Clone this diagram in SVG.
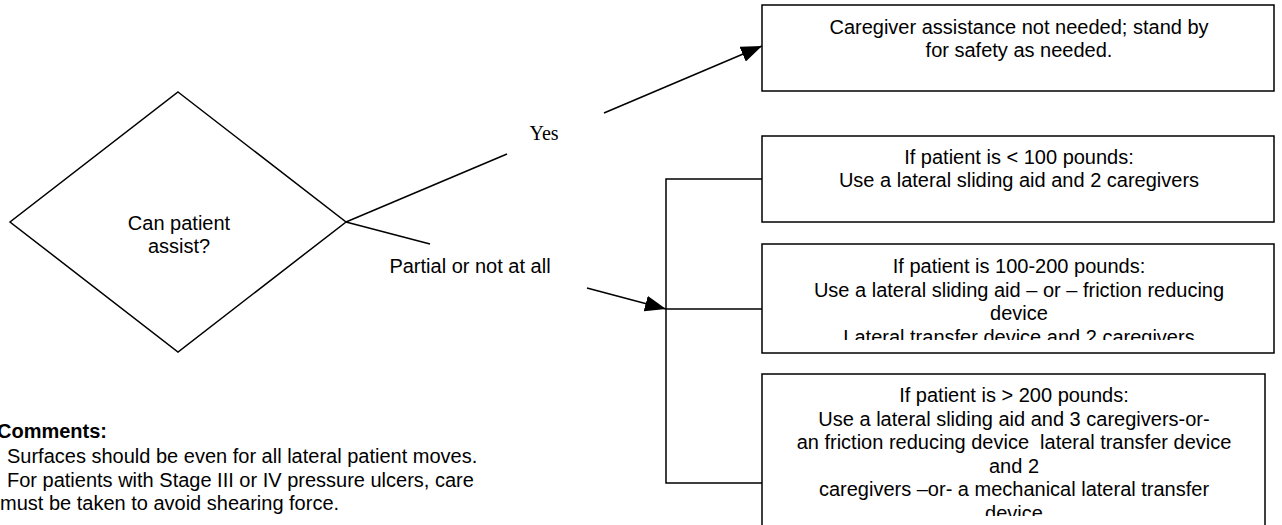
<svg xmlns="http://www.w3.org/2000/svg" width="1282" height="525" viewBox="0 0 1282 525">
<style>
  .shape{fill:#fff;stroke:#000;stroke-width:1.5}
  .line{fill:none;stroke:#000;stroke-width:1.5}
  .t{font-family:"Liberation Sans",Arial,sans-serif;font-size:20px;fill:#000;white-space:pre}
  .c{text-anchor:middle}
  .serif{font-family:"Liberation Serif","Times New Roman",serif;font-size:20px;fill:#000}
  .b{font-weight:bold}
</style>
<defs>
  <marker id="arrow" viewBox="0 0 21 16" refX="21" refY="8" markerWidth="21" markerHeight="16" markerUnits="userSpaceOnUse" orient="auto">
    <path d="M0,0 L21,8 L0,16 Z" fill="#000"/>
  </marker>
  <clipPath id="clip3"><rect x="762" y="244" width="512" height="96"/></clipPath>
  <clipPath id="clip4"><rect x="762" y="374" width="503" height="142"/></clipPath>
</defs>
<rect width="1282" height="525" fill="#fff"/>

<g id="connectors">
  <line class="line" x1="346" y1="222" x2="507" y2="154"/>
  <line class="line" x1="604" y1="113" x2="762" y2="46" marker-end="url(#arrow)"/>
  <line class="line" x1="346" y1="222" x2="430" y2="244"/>
  <line class="line" x1="587" y1="288" x2="666" y2="309" marker-end="url(#arrow)"/>
  <polyline class="line" points="762,179 666,179 666,483 762,483"/>
  <line class="line" x1="666" y1="309" x2="762" y2="309"/>
  <text class="serif c" x="544" y="140">Yes</text>
  <text class="t c" x="470" y="273">Partial or not at all</text>
</g>

<g id="decision">
  <polygon class="shape" points="178,92 346,222 178,352 10,222"/>
  <text class="t c" x="179" y="230">Can patient</text>
  <text class="t c" x="179" y="253">assist?</text>
</g>

<g id="box-yes">
  <rect class="shape" x="762" y="5" width="512" height="86"/>
  <text class="t c" x="1019" y="34">Caregiver assistance not needed; stand by</text>
  <text class="t c" x="1019" y="57">for safety as needed.</text>
</g>

<g id="box-under100">
  <rect class="shape" x="762" y="136" width="512" height="86"/>
  <text class="t c" x="1019" y="164">If patient is &lt; 100 pounds:</text>
  <text class="t c" x="1019" y="187">Use a lateral sliding aid and 2 caregivers</text>
</g>

<g id="box-100-200">
  <rect class="shape" x="762" y="244" width="512" height="109"/>
  <g clip-path="url(#clip3)">
    <text class="t c" x="1019" y="273">If patient is 100-200 pounds:</text>
    <text class="t c" x="1019" y="296.5">Use a lateral sliding aid – or – friction reducing</text>
    <text class="t c" x="1019" y="320">device</text>
    <text class="t c" x="1019" y="343.5">Lateral transfer device and 2 caregivers</text>
  </g>
</g>

<g id="box-over200">
  <rect class="shape" x="762" y="374" width="503" height="160"/>
  <g clip-path="url(#clip4)">
    <text class="t c" x="1014" y="402">If patient is &gt; 200 pounds:</text>
    <text class="t c" x="1014" y="425.5">Use a lateral sliding aid and 3 caregivers-or-</text>
    <text class="t c" x="1014" y="449">an friction reducing device  lateral transfer device</text>
    <text class="t c" x="1014" y="472.5">and 2</text>
    <text class="t c" x="1014" y="496">caregivers –or- a mechanical lateral transfer</text>
    <text class="t c" x="1014" y="519.5">device</text>
  </g>
</g>

<g id="comments">
  <text class="t b" x="-3" y="438">Comments:</text>
  <text class="t" x="7" y="463">Surfaces should be even for all lateral patient moves.</text>
  <text class="t" x="7" y="487">For patients with Stage III or IV pressure ulcers, care</text>
  <text class="t" x="0" y="510">must be taken to avoid shearing force.</text>
</g>
</svg>
